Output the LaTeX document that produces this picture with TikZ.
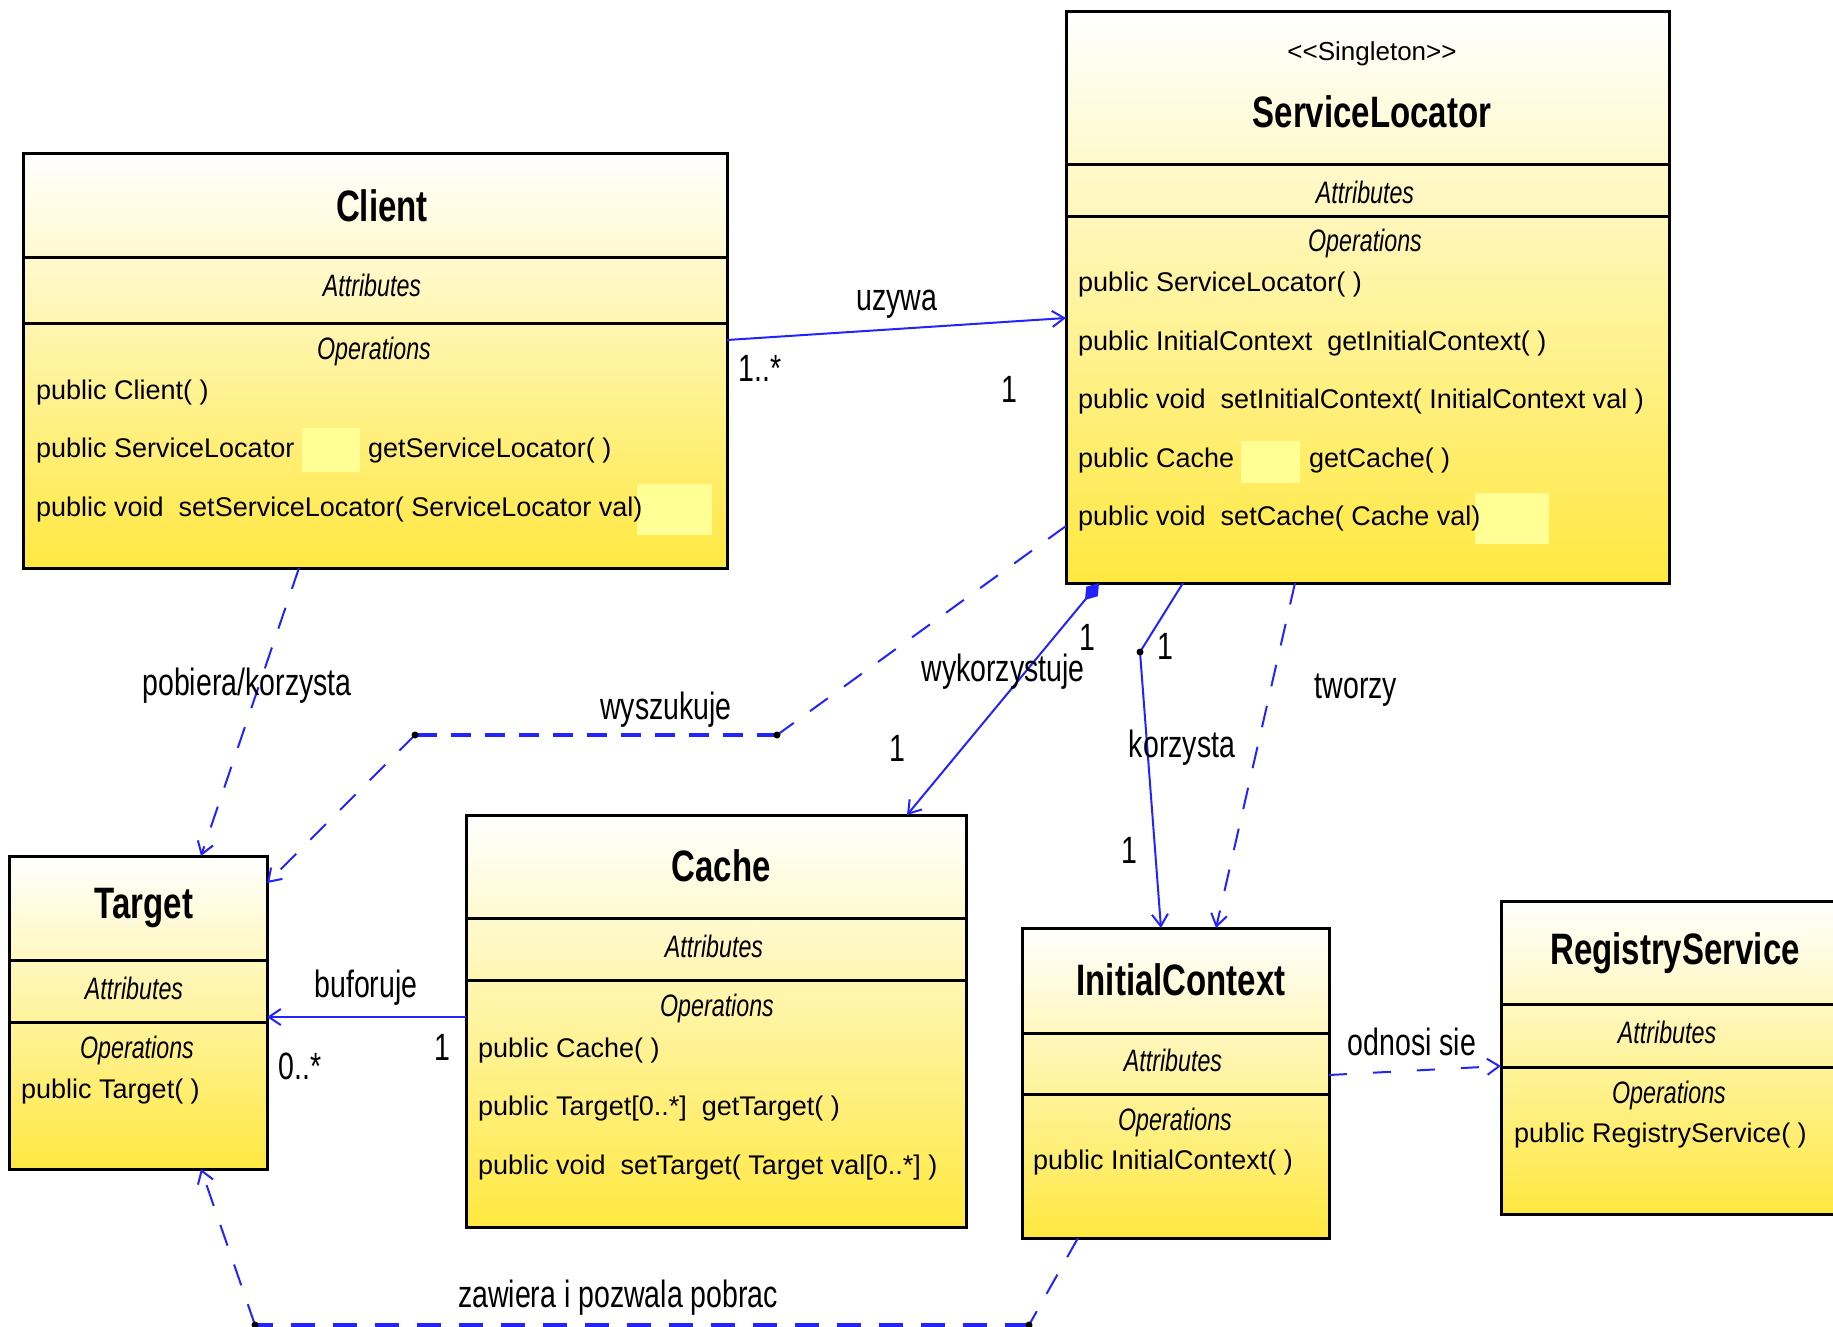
\documentclass[tikz,border=0pt]{standalone}
\usepackage{fontspec}
\usepackage{tikz}
\usetikzlibrary{arrows.meta,calc}
\setmainfont{Liberation Sans}
\newfontfamily\narrowfont[FakeStretch=0.75]{Liberation Sans}
\definecolor{umlyellow}{RGB}{255,232,64}
\definecolor{umlpale}{RGB}{255,255,178}
\definecolor{hilite}{RGB}{255,255,150}
\definecolor{linkblue}{RGB}{35,35,255}

\begin{document}
\begin{tikzpicture}[x=1pt,y=-1pt,
    classbox/.style={draw=black, line width=3pt, top color=white, middle color=umlpale,
        bottom color=umlyellow, anchor=north west, inner sep=0pt, outer sep=0pt},
    classname/.style={font={\narrowfont\bfseries\fontsize{44}{48}\selectfont}},
    compart/.style={font={\narrowfont\itshape\fontsize{31}{34}\selectfont}},
    oper/.style={anchor=west, inner sep=0pt, font={\fontsize{27}{30}\selectfont}},
    linktext/.style={font={\narrowfont\fontsize{38}{42}\selectfont}},
    assoc/.style={draw=linkblue, line width=2pt, -{Straight Barb[length=12pt,width=16pt]}},
    dep/.style={assoc, dash pattern=on 22pt off 20pt},
    divider/.style={draw=black, line width=3pt}]
    \useasboundingbox (0,0) rectangle (1833,1327);
    \clip (0,0) rectangle (1833,1327);

    % Classes
    \node[classbox, minimum width=704, minimum height=415] (client) at (23,153) {};
    \node[classbox, minimum width=603, minimum height=571] (sl) at (1066,12) {};
    \node[classbox, minimum width=258, minimum height=313] (target) at (9,856) {};
    \node[classbox, minimum width=500, minimum height=412] (cache) at (466,815) {};
    \node[classbox, minimum width=307, minimum height=310] (ic) at (1022,928) {};
    \node[classbox, minimum width=360, minimum height=313] (rs) at (1501,901) {};

    % Compartments
    \draw[divider] (client.west |- 0,257) -- (client.east |- 0,257);
    \draw[divider] (client.west |- 0,323) -- (client.east |- 0,323);
    \draw[divider] (sl.west |- 0,164) -- (sl.east |- 0,164);
    \draw[divider] (sl.west |- 0,216) -- (sl.east |- 0,216);
    \draw[divider] (target.west |- 0,960) -- (target.east |- 0,960);
    \draw[divider] (target.west |- 0,1022) -- (target.east |- 0,1022);
    \draw[divider] (cache.west |- 0,918) -- (cache.east |- 0,918);
    \draw[divider] (cache.west |- 0,980) -- (cache.east |- 0,980);
    \draw[divider] (ic.west |- 0,1033) -- (ic.east |- 0,1033);
    \draw[divider] (ic.west |- 0,1094) -- (ic.east |- 0,1094);
    \draw[divider] (rs.west |- 0,1004) -- (rs.east |- 0,1004);
    \draw[divider] (rs.west |- 0,1067) -- (rs.east |- 0,1067);

    % Light patches
    \fill[hilite] (302,428) rectangle (360,472);
    \fill[hilite] (637,484) rectangle (712,535);
    \fill[hilite] (1241,441) rectangle (1300,483);
    \fill[hilite] (1475,493) rectangle (1549,544);

    % Client
    \node[classname] (clientN) at (382,206) {Client};
    \node[compart] (clientA) at (372,285) {Attributes};
    \node[compart] (clientO) at (374,351) {Operations};
    \node[oper] (clientM1) at (36,393) {public Client( )};
    \node[oper] (clientM2) at (36,451) {public ServiceLocator};
    \node[oper] (clientM3) at (368,451) {getServiceLocator( )};
    \node[oper] (clientM4) at (36,510) {public void\ \ setServiceLocator( ServiceLocator val)};

    % ServiceLocator
    \node[font=\fontsize{26}{28}\selectfont] (slS) at (1372,54) {{<}{<}Singleton{>}{>}};
    \node[classname] (slN) at (1372,112) {ServiceLocator};
    \node[compart] (slA) at (1365,192) {Attributes};
    \node[compart] (slO) at (1365,243) {Operations};
    \node[oper] (slM1) at (1078,285) {public ServiceLocator( )};
    \node[oper] (slM2) at (1078,344) {public InitialContext\ \ getInitialContext( )};
    \node[oper] (slM3) at (1078,402) {public void\ \ setInitialContext( InitialContext val )};
    \node[oper] (slM4) at (1078,461) {public Cache};
    \node[oper] (slM5) at (1309,461) {getCache( )};
    \node[oper] (slM6) at (1078,519) {public void\ \ setCache( Cache val)};

    % Target
    \node[classname] (targetN) at (144,908) {Target};
    \node[compart] (targetA) at (134,988) {Attributes};
    \node[compart] (targetO) at (137,1050) {Operations};
    \node[oper] (targetM1) at (21,1092) {public Target( )};

    % Cache
    \node[classname] (cacheN) at (721,866) {Cache};
    \node[compart] (cacheA) at (714,946) {Attributes};
    \node[compart] (cacheO) at (717,1008) {Operations};
    \node[oper] (cacheM1) at (478,1051) {public Cache( )};
    \node[oper] (cacheM2) at (478,1109) {public Target[0..*]\ \ getTarget( )};
    \node[oper] (cacheM3) at (478,1168) {public void\ \ setTarget( Target val[0..*] )};

    % InitialContext
    \node[classname] (icN) at (1181,980) {InitialContext};
    \node[compart] (icA) at (1173,1060) {Attributes};
    \node[compart] (icO) at (1175,1122) {Operations};
    \node[oper] (icM1) at (1033,1163) {public InitialContext( )};

    % RegistryService
    \node[classname] (rsN) at (1675,953) {RegistryService};
    \node[compart] (rsA) at (1667,1032) {Attributes};
    \node[compart] (rsO) at (1669,1095) {Operations};
    \node[oper] (rsM1) at (1514,1136) {public RegistryService( )};

    % Bend points
    \coordinate (wyA) at (777,735);
    \coordinate (wyB) at (415,735);
    \coordinate (koA) at (1140,652);
    \coordinate (zaA) at (1029,1325);
    \coordinate (zaB) at (255,1325);

    % Links
    \draw[assoc] (client.east |- 0,340) -- (sl.west |- 0,318);
    \draw[dep] (client.south -| 299,0) -- (target.north -| 201,0);
    \draw[dep, -] (sl.west |- 0,526) -- (wyA);
    \draw[dep, -, line width=4.5pt, dash pattern=on 20pt off 14pt] (wyA) -- (wyB);
    \draw[dep] (wyB) -- (target.east |- 0,883);
    \draw[assoc, {Diamond[length=22pt,width=15pt]}-{Straight Barb[length=12pt,width=16pt]}]
        (sl.south -| 1099,0) -- (cache.north -| 907,0);
    \draw[assoc, -] (sl.south -| 1183,0) -- (koA);
    \draw[assoc] (koA) -- (ic.north -| 1161,0);
    \draw[dep] (sl.south -| 1295,0) -- (ic.north -| 1216,0);
    \draw[assoc] (cache.west |- 0,1017) -- (target.east |- 0,1017);
    \draw[dep, dash pattern=on 18pt off 26pt] (ic.east |- 0,1075) -- (rs.west |- 0,1066);
    \draw[dep, -] (ic.south -| 1078,0) -- (zaA);
    \draw[dep, -, line width=4.5pt, dash pattern=on 24pt off 18pt] (zaA) -- (zaB);
    \draw[dep] (zaB) -- (target.south -| 201,0);
    \foreach \p in {wyA,wyB,koA,zaA,zaB}
        \fill (\p) circle (3.5pt);

    % Labels
    \node[linktext] (uzywaL) at (897,304) {uzywa};
    \node[linktext] (uzywaM1) at (760,368) {1..*};
    \node[linktext] (uzywaM2) at (1009,389) {1};
    \node[linktext] (pobieraL) at (247,686) {pobiera/korzysta};
    \node[linktext] (wyszukujeL) at (666,710) {wyszukuje};
    \node[linktext] (wykorzL) at (1003,672) {wykorzystuje};
    \node[linktext] (wykorzM1) at (1087,637) {1};
    \node[linktext] (wykorzM2) at (897,748) {1};
    \node[linktext] (korzystaL) at (1182,748) {korzysta};
    \node[linktext] (korzystaM1) at (1165,646) {1};
    \node[linktext] (korzystaM2) at (1129,850) {1};
    \node[linktext] (tworzyL) at (1356,690) {tworzy};
    \node[linktext] (buforujeL) at (366,988) {buforuje};
    \node[linktext] (buforujeM1) at (300,1066) {0..*};
    \node[linktext] (buforujeM2) at (442,1047) {1};
    \node[linktext] (odnosiL) at (1412,1042) {odnosi sie};
    \node[linktext] (zawieraL) at (618,1298) {zawiera i pozwala pobrac};
\end{tikzpicture}
\end{document}
